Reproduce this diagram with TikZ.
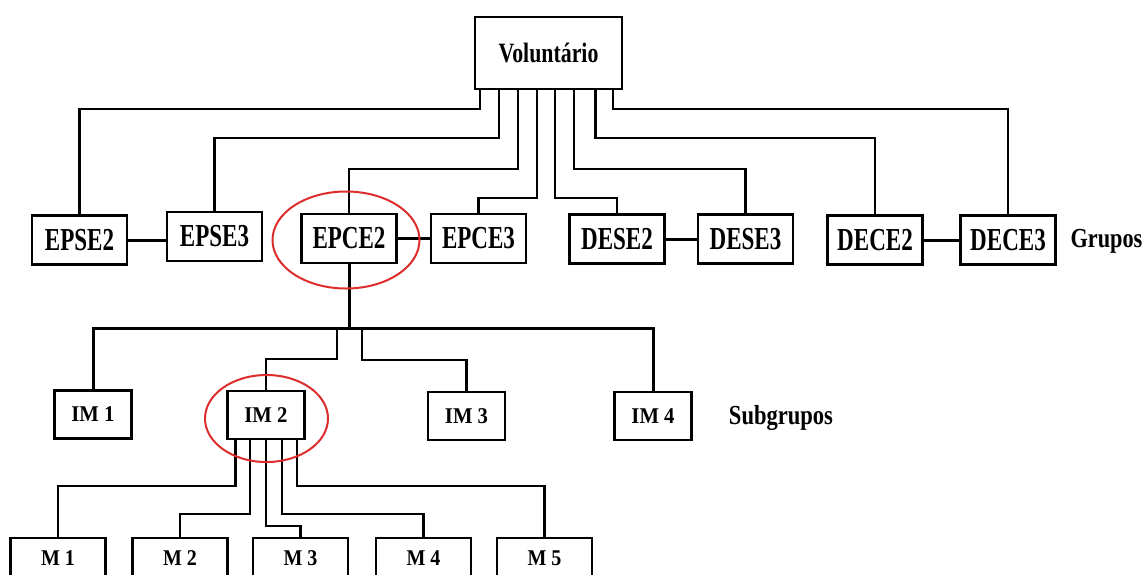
\documentclass[tikz,border=0pt]{standalone}
\usepackage{fontspec}
\setmainfont{Liberation Serif}
\usetikzlibrary{calc,shapes.geometric}
\newcommand\sq[2]{\scalebox{#1}[1]{#2}}
\definecolor{ringred}{RGB}{222,45,45}
\begin{document}
\begin{tikzpicture}[x=1pt,y=-1pt,
  box/.style={draw, line width=2.6pt, inner sep=0pt, fill=white},
  gbox/.style={box, minimum width=95pt, minimum height=49pt, font=\fontsize{32}{36}\selectfont\bfseries},
  ibox/.style={box, minimum width=77pt, minimum height=48pt, font=\fontsize{22.5}{26}\selectfont\bfseries},
  mbox/.style={box, minimum width=95pt, minimum height=40pt, font=\fontsize{22.5}{26}\selectfont\bfseries},
  conn/.style={line width=2.2pt},
  link/.style={line width=3pt},
  ring/.style={draw=ringred, line width=2pt, ellipse, inner sep=0pt},
  lbl/.style={font=\fontsize{27.5}{30}\selectfont\bfseries, inner sep=0pt}
]
\useasboundingbox (0,0) rectangle (1147,574);
\clip (0,0) rectangle (1147,574);
\fill[white] (0,0) rectangle (1147,574);

% root
\node[box, minimum width=147pt, minimum height=72pt, font=\fontsize{28}{32}\selectfont\bfseries] (vol) at (548.5,53) {\sq{0.78}{Voluntário}};

% groups
\node[gbox] (epse2) at (79.5,240) {\sq{0.72}{EPSE2}};
\node[gbox] (epse3) at (214.5,236.5) {\sq{0.72}{EPSE3}};
\node[gbox] (epce2) at (349,238.5) {\sq{0.72}{EPCE2}};
\node[gbox] (epce3) at (478.5,238.5) {\sq{0.72}{EPCE3}};
\node[gbox] (dese2) at (617,239) {\sq{0.72}{DESE2}};
\node[gbox] (dese3) at (745.5,239) {\sq{0.72}{DESE3}};
\node[gbox] (dece2) at (875,240) {\sq{0.72}{DECE2}};
\node[gbox] (dece3) at (1008,240) {\sq{0.72}{DECE3}};
\node[lbl] (grupos) at (1106.5,241) {\sq{0.81}{Grupos}};

% subgroups
\node[ibox] (im1) at (93,414.5) {\sq{0.92}{IM 1}};
\node[ibox] (im2) at (266,415) {\sq{0.92}{IM 2}};
\node[ibox] (im3) at (466.5,416) {\sq{0.92}{IM 3}};
\node[ibox] (im4) at (653,416) {\sq{0.92}{IM 4}};
\node[lbl] (subg) at (781,418) {\sq{0.82}{Subgrupos}};

% members
\node[mbox] (m1) at (58,558) {\sq{0.89}{M 1}};
\node[mbox] (m2) at (180,558) {\sq{0.89}{M 2}};
\node[mbox] (m3) at (300.5,558) {\sq{0.89}{M 3}};
\node[mbox] (m4) at (423.5,558) {\sq{0.89}{M 4}};
\node[mbox] (m5) at (544.5,558) {\sq{0.89}{M 5}};

% root to groups
\draw[conn] ([xshift=6.6pt]vol.south west) -- ++(0,19) -| (epse2.north);
\draw[conn] ([xshift=25pt]vol.south west) -- ++(0,48) -| (epse3.north);
\draw[conn] ([xshift=44pt]vol.south west) -- ++(0,79) -| (epce2.north);
\draw[conn] ([xshift=63pt]vol.south west) -- ++(0,108) -| (epce3.north);
\draw[conn] ([xshift=81pt]vol.south west) -- ++(0,108) -| (dese2.north);
\draw[conn] ([xshift=100.5pt]vol.south west) -- ++(0,79) -| (dese3.north);
\draw[conn] ([xshift=121.7pt]vol.south west) -- ++(0,48) -| (dece2.north);
\draw[conn] ([xshift=139pt]vol.south west) -- ++(0,19) -| (dece3.north);

% pair links
\draw[link] (epse2.east) -- (epse2.east -| epse3.west);
\draw[link] (epce2.east) -- (epce2.east -| epce3.west);
\draw[link] (dese2.east) -- (dese2.east -| dese3.west);
\draw[link] (dece2.east) -- (dece2.east -| dece3.west);

% EPCE2 to subgroups
\draw[link] (epce2.south) -- ++(0,66) coordinate (hub);
\draw[link] (im1.north) -- ++(0,-61) -| (im4.north);
\draw[conn] (im2.north) -- ++(0,-31) -| ([xshift=-12pt]hub);
\draw[conn] (im3.north) -- ++(0,-31) -| ([xshift=13pt]hub);

% IM2 to members
\draw[conn] ([xshift=-30.5pt]im2.south) -- ++(0,46) -| (m1.north);
\draw[conn] ([xshift=-16pt]im2.south) -- ++(0,74) -| (m2.north);
\draw[conn] (im2.south) -- ++(0,86) -| (m3.north);
\draw[conn] ([xshift=15.6pt]im2.south) -- ++(0,74) -| (m4.north);
\draw[conn] ([xshift=30.7pt]im2.south) -- ++(0,46) -| (m5.north);

% red rings
\node[ring, minimum width=147pt, minimum height=97pt] (ring1) at (346,240) {};
\node[ring, minimum width=123pt, minimum height=87pt] (ring2) at (266.5,418.5) {};
\end{tikzpicture}
\end{document}
